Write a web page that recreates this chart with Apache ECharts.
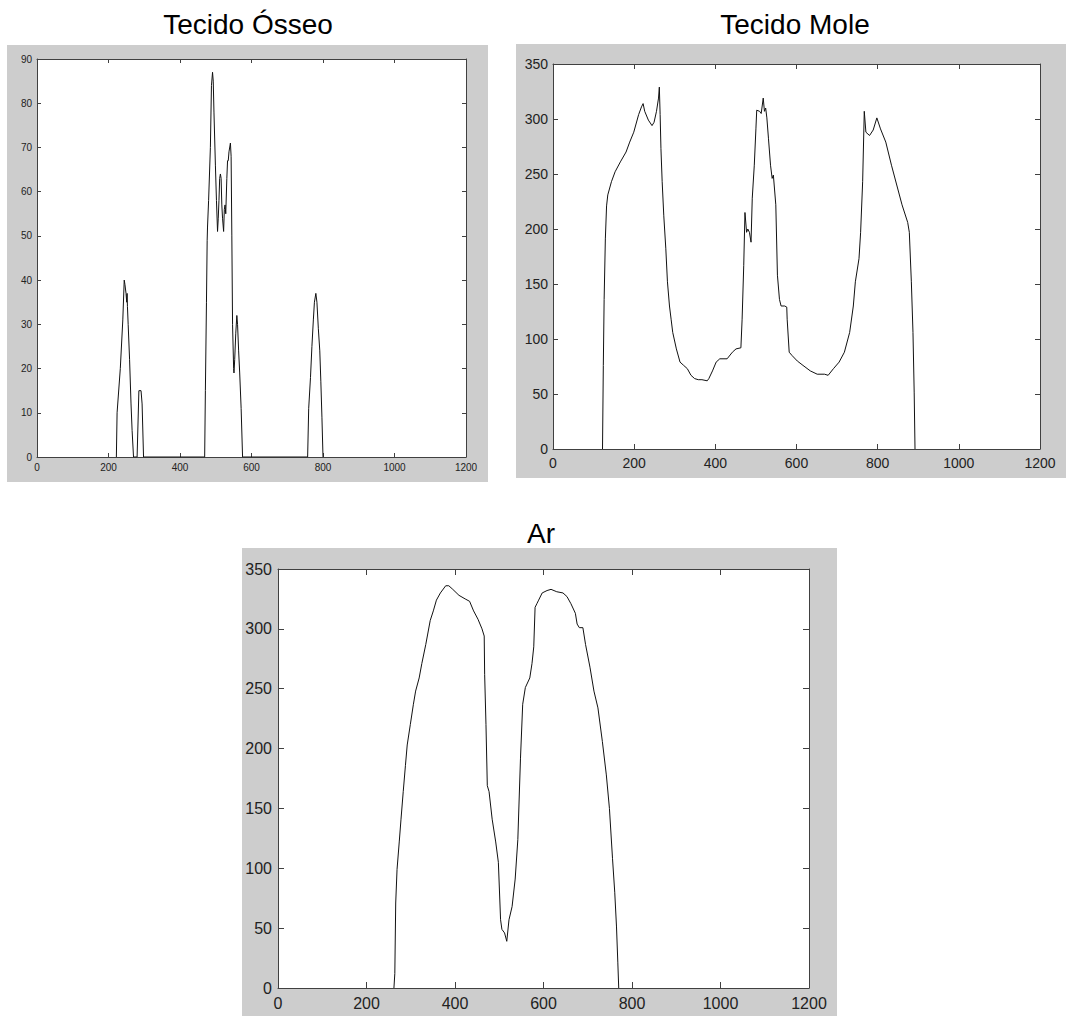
<!DOCTYPE html>
<html>
<head>
<meta charset="utf-8">
<script src="https://cdn.jsdelivr.net/npm/echarts@6/dist/echarts.min.js"></script>
<style>
html,body{margin:0;padding:0;background:#fff;}
#chart{width:1066px;height:1016px;}
</style>
</head>
<body>
<div id="chart"></div>
<script>
// ---- Data ----
const xTicks = [0, 200, 400, 600, 800, 1000, 1200];

const titles = ["Tecido Ósseo", "Tecido Mole", "Ar"];

// Tecido Ósseo
const osseoX = [222,224,233,240,244,246,249,251,252,253,255,259,263,266,270,
  280,285,291,294,298,
  469,471,474,476,477,480,485,488,491,493,495,499,502,505,507,509,511,513,515,517,519,522,524,526,528,531,533,535,537,541,543,545,547,550,551,553,556,559,561,564,567,571,575,
  757,760,765,769,773,776,780,783,787,791,794,797,800];
const osseoY = [0,10,20,31,40,39,37,35,37,34,30,22,12,6,0,
  0,15,15,12,0,
  0,15,35,49,52,58,70,84,87,85,78,66,58,51,54,58,63,64,63,57,54,51,56,57,55,63,67,67,69,71,68,50,30,20,19,22,28,32,30,24,19,11,0,
  0,11,18,25,31,35,37,35,29,24,17,9,0];

// Tecido Mole
const moleX = [122,124,126,129,132,135,144,153,166,180,189,199,211,218,222,226,235,244,249,255,260,262,264,266,269,273,278,282,287,291,295,304,313,322,331,340,349,358,367,380,384,393,402,411,429,442,451,463,466,470,473,477,480,484,488,491,496,500,502,509,513,518,521,524,527,531,536,540,543,545,549,553,558,562,571,576,577,582,589,602,616,634,651,669,678,691,705,718,731,740,745,754,758,763,767,771,780,789,798,807,820,834,847,860,874,878,883,887,890,892];
const moleY = [0,76,136,191,221,231,243,252,261,270,279,288,304,311,314,307,299,294,297,307,319,329,304,273,243,212,182,152,130,118,106,91,79,76,73,67,64,63,63,62,64,71,79,82,82,88,91,92,118,167,215,197,200,197,188,228,258,291,308,307,305,319,307,310,301,282,258,246,249,240,222,158,136,130,130,129,118,88,85,80,76,71,68,68,67,73,79,88,106,130,152,173,197,243,307,288,285,290,301,291,279,258,240,222,206,197,152,106,51,0];

// Ar
const arX = [262,264,266,269,274,278,283,288,292,299,306,311,319,325,334,344,351,358,367,379,386,395,409,423,433,442,452,461,466,467,470,473,477,484,492,498,503,506,512,517,522,529,536,542,548,553,559,569,574,578,581,585,589,597,608,617,630,644,653,662,672,676,681,689,695,705,714,723,733,742,749,756,761,765,768,770];
const arY = [0,12,71,99,122,141,164,186,203,220,237,248,259,271,287,307,315,324,330,336,336,333,328,325,323,315,308,300,294,262,220,169,164,141,122,105,57,49,46,39,57,68,91,124,192,237,251,259,271,285,318,321,324,330,332,333,331,330,327,321,313,304,301,301,287,268,248,234,206,178,150,108,80,51,21,0];

const osseoYTicks = {max: 90, interval: 10};
const moleYTicks = {max: 350, interval: 50};
const arYTicks = {max: 350, interval: 50};

// ---- Layout / style ----
const FONT = "'Liberation Sans', Arial, sans-serif";
const AXIS_COLOR = '#404040';
const LABEL_COLOR = '#222';

const panels = [
  {grid:{left:37, top:59, width:429, height:398}, bg:[7,45,481,437], title:[248,24], fs:10, tick:4, ymargin:5, xmargin:5, yt:osseoYTicks, xs:osseoX, ys:osseoY},
  {grid:{left:553, top:64, width:487, height:385}, bg:[516,44,550,434], title:[795,24], fs:14, tick:5, ymargin:5, xmargin:7, yt:moleYTicks, xs:moleX, ys:moleY},
  {grid:{left:278, top:569, width:531, height:419}, bg:[242,548,595,468], title:[541,533], fs:16, tick:6, ymargin:6, xmargin:7, yt:arYTicks, xs:arX, ys:arY}
];

function zip(xs, ys){ return xs.map((x,i)=>[x, ys[i]]); }

const grids = [], xAxes = [], yAxes = [], series = [], graphics = [];
panels.forEach((p, i) => {
  grids.push(Object.assign({show:true, backgroundColor:'#fff', borderWidth:0, containLabel:false}, p.grid));
  const common = (pos, showLabel, margin) => ({
    gridIndex:i, type:'value', position:pos,
    axisLine:{show:true, onZero:false, lineStyle:{color:AXIS_COLOR, width:1}},
    axisTick:{show:true, inside:true, length:p.tick, lineStyle:{color:AXIS_COLOR, width:1}},
    axisLabel:{show:showLabel, fontSize:p.fs, color:LABEL_COLOR, fontFamily:FONT, margin:margin, formatter:(v)=>String(v)},
    splitLine:{show:false}
  });
  xAxes.push(Object.assign(common('bottom', true, p.xmargin), {min:xTicks[0], max:xTicks[xTicks.length-1], interval:xTicks[1]-xTicks[0]}));
  xAxes.push(Object.assign(common('top', false, 0), {min:xTicks[0], max:xTicks[xTicks.length-1], interval:xTicks[1]-xTicks[0]}));
  yAxes.push(Object.assign(common('left', true, p.ymargin), {min:0, max:p.yt.max, interval:p.yt.interval}));
  yAxes.push(Object.assign(common('right', false, 0), {min:0, max:p.yt.max, interval:p.yt.interval}));
  series.push({
    type:'line', xAxisIndex:i*2, yAxisIndex:i*2, data:zip(p.xs, p.ys),
    symbol:'none', lineStyle:{color:'#111', width:1}, animation:false, z:5
  });
  graphics.push({type:'rect', z:-100, shape:{x:p.bg[0], y:p.bg[1], width:p.bg[2], height:p.bg[3]}, style:{fill:'#cdcdcd'}, silent:true});
  graphics.push({type:'text', z:10, x:p.title[0], y:p.title[1],
    style:{text:titles[i], fill:'#000', font:"28px " + FONT, align:'center', verticalAlign:'middle', textAlign:'center', textVerticalAlign:'middle'}});
});

const chart = echarts.init(document.getElementById('chart'), null, {renderer:'svg'});
chart.setOption({
  backgroundColor:'#fff',
  animation:false,
  grid:grids, xAxis:xAxes, yAxis:yAxes, series:series,
  graphic:{elements:graphics}
});
</script>
</body>
</html>
